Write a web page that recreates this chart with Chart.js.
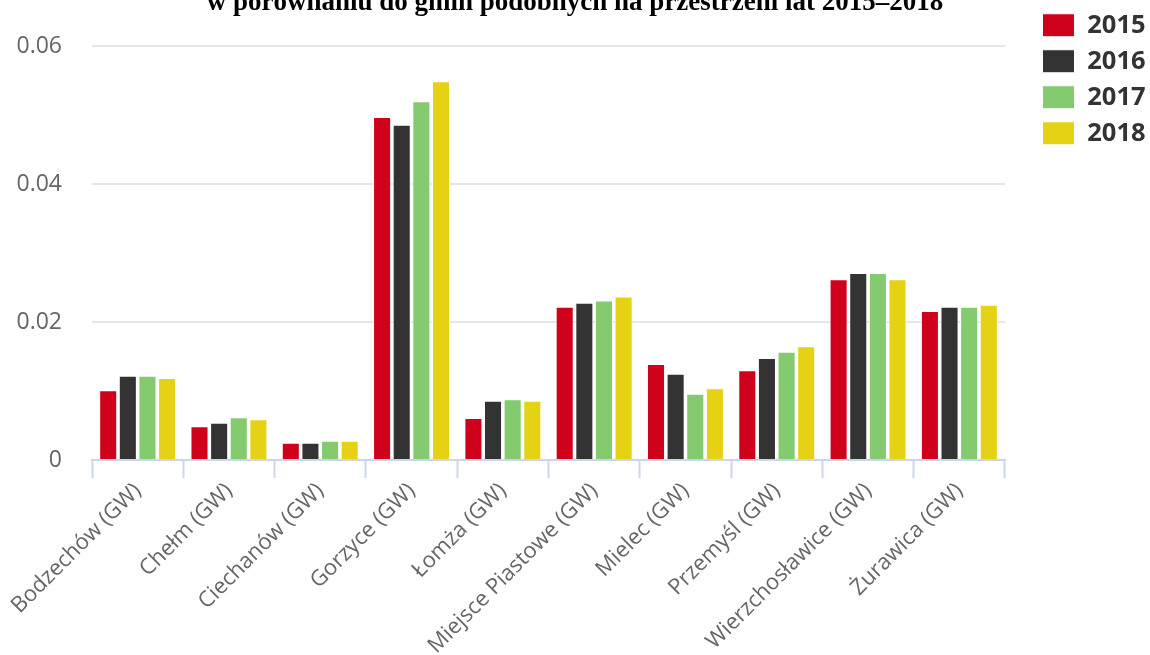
<!DOCTYPE html>
<html>
<head>
<meta charset="utf-8">
<script src="https://cdn.jsdelivr.net/npm/chart.js@4"></script>
<style>
  html, body { margin: 0; padding: 0; background: #fff; }
  #wrap { width: 1150px; height: 655px; }
</style>
</head>
<body>
<div id="wrap"><canvas id="chart" width="1150" height="655"></canvas></div>
<script>
/* ─── Gminy: wskaźnik 2015–2018 ───────────────────────────────────────────── */

const TITLE = 'w porównaniu do gmin podobnych na przestrzeni lat 2015–2018';

const CATEGORIES = [
  'Bodzechów (GW)', 'Chełm (GW)', 'Ciechanów (GW)', 'Gorzyce (GW)', 'Łomża (GW)',
  'Miejsce Piastowe (GW)', 'Mielec (GW)', 'Przemyśl (GW)', 'Wierzchosławice (GW)', 'Żurawica (GW)',
];

const YEARS = ['2015', '2016', '2017', '2018'];

const V2015 = [0.0101, 0.0049, 0.0025, 0.0497, 0.0061, 0.0222, 0.0139, 0.0130, 0.0262, 0.0216];
const V2016 = [0.0122, 0.0054, 0.0025, 0.0486, 0.0086, 0.0228, 0.0125, 0.0148, 0.0271, 0.0222];
const V2017 = [0.0122, 0.0062, 0.0028, 0.0520, 0.0088, 0.0231, 0.0096, 0.0157, 0.0271, 0.0222];
const V2018 = [0.0119, 0.0059, 0.0028, 0.0549, 0.0086, 0.0237, 0.0104, 0.0165, 0.0262, 0.0225];

const Y_MIN  = 0;
const Y_MAX  = 0.06;
const Y_STEP = 0.02;

// ─── Styles ───────────────────────────────────────────────────────────────────

const COLORS = {
  y2015: '#d0021b',
  y2016: '#333333',
  y2017: '#83cb6e',
  y2018: '#e6d215',
  grid:  '#e6e6e6',
  axis:  '#ccd6eb',
  text:  '#666666',
  legend:'#333333',
};

const SANS  = "'Open Sans', 'DejaVu Sans', sans-serif";
const SERIF = "'Liberation Serif', 'Times New Roman', serif";

// legend sits above/right of the plot, outside the normal box flow
const LEGEND_X = 1032;
const LEGEND_Y = 2;
const LEGEND_W = 145;

const legendSpot = {
  id: 'legendSpot',
  beforeUpdate(chart) {
    const lg = chart.legend;
    if (!lg || lg._spotFit) return;
    const fit = lg.fit;
    lg.fit = function () { fit.call(this); this.width = LEGEND_W; };
    lg._spotFit = true;
  },
  afterLayout(chart) {
    const lg = chart.legend;
    const w = lg.width, h = lg.height;
    lg.left = LEGEND_X; lg.right = LEGEND_X + w;
    lg.top = LEGEND_Y;  lg.bottom = LEGEND_Y + h;
  },
};

const series = [V2015, V2016, V2017, V2018];
const fills  = [COLORS.y2015, COLORS.y2016, COLORS.y2017, COLORS.y2018];

new Chart(document.getElementById('chart'), {
  type: 'bar',
  data: {
    labels: CATEGORIES,
    datasets: YEARS.map((year, i) => ({
      label: year,
      data: series[i],
      backgroundColor: fills[i],
      borderColor: '#ffffff',
      borderWidth: 1,
      categoryPercentage: 0.86,
      barPercentage: 0.92,
    })),
  },
  options: {
    responsive: false,
    animation: false,
    layout: { padding: 0 },
    plugins: {
      title: {
        display: true,
        text: TITLE,
        color: '#000',
        font: { family: SERIF, size: 27, weight: 'bold', lineHeight: 1.2 },
        padding: { top: -13, bottom: 26.6 },
      },
      legend: {
        position: 'right',
        align: 'start',
        labels: {
          boxWidth: 32,
          boxHeight: 23,
          padding: 10.5,
          color: COLORS.legend,
          font: { family: SANS, size: 25.5, weight: 'bold' },
        },
      },
      tooltip: { enabled: false },
    },
    scales: {
      x: {
        grid: {
          display: true,
          drawOnChartArea: false,
          drawTicks: true,
          tickLength: 18,
          tickWidth: 2,
          tickColor: COLORS.axis,
        },
        border: { display: true, color: COLORS.axis, width: 2 },
        ticks: {
          autoSkip: false,
          maxRotation: 45,
          minRotation: 45,
          padding: 0,
          color: COLORS.text,
          font: { family: SANS, size: 22 },
        },
        afterFit: scale => { scale.height = 195; },
      },
      y: {
        min: Y_MIN,
        max: Y_MAX,
        grid: { color: COLORS.grid, lineWidth: 2, drawTicks: false },
        border: { display: false },
        ticks: {
          stepSize: Y_STEP,
          padding: 30,
          color: COLORS.text,
          font: { family: SANS, size: 23 },
        },
        afterFit: scale => { scale.width = 92; },
      },
    },
  },
  plugins: [legendSpot],
});
</script>
</body>
</html>
